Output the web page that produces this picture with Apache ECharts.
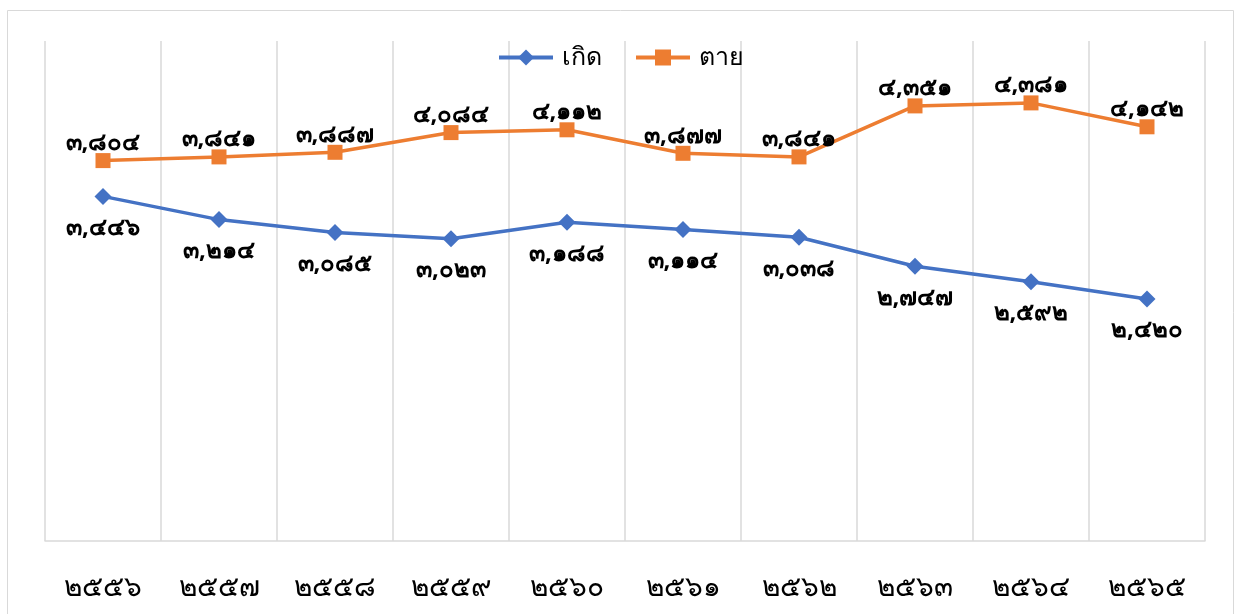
<!DOCTYPE html>
<html>
<head>
<meta charset="utf-8">
<script src="https://cdn.jsdelivr.net/npm/echarts@6/dist/echarts.min.js"></script>
<style>
  html, body { margin: 0; padding: 0; background: #fff; }
  #chart { width: 1241px; height: 614px; }
</style>
</head>
<body>
<div id="chart"></div>
<script>
// Years (Buddhist era, Thai digits)
const years = ['๒๕๕๖', '๒๕๕๗', '๒๕๕๘', '๒๕๕๙', '๒๕๖๐', '๒๕๖๑', '๒๕๖๒', '๒๕๖๓', '๒๕๖๔', '๒๕๖๕'];
// Births per year
const births = [3446, 3214, 3085, 3023, 3188, 3114, 3038, 2747, 2592, 2420];
// Deaths per year
const deaths = [3804, 3841, 3887, 4084, 4112, 3877, 3841, 4351, 4381, 4142];

const seriesNames = ['เกิด', 'ตาย'];
const FONT = '"Noto Sans", "DejaVu Sans", sans-serif';

// Format a number with thousands separator in Thai digits
const thaiDigits = '๐๑๒๓๔๕๖๗๘๙';
function toThai(n) {
  return n.toLocaleString('en-US').replace(/[0-9]/g, d => thaiDigits[+d]);
}

const chart = echarts.init(document.getElementById('chart'), null, { renderer: 'canvas' });

chart.setOption({
  animation: false,
  textStyle: { fontFamily: FONT },
  graphic: [{
    type: 'rect',
    shape: { x: 7.5, y: 10.5, width: 1226, height: 620 },
    style: { fill: 'none', stroke: '#d9d9d9', lineWidth: 1 },
    silent: true
  }],
  legend: {
    top: 40,
    left: 'center',
    itemWidth: 54,
    itemHeight: 20,
    itemGap: 32,
    lineStyle: { width: 4 },
    textStyle: { fontSize: 25, color: '#000', fontFamily: FONT, padding: [0, 0, 0, 4] },
    data: seriesNames
  },
  grid: { left: 45, right: 36, top: 41, bottom: 73 },
  xAxis: {
    type: 'category',
    data: years,
    boundaryGap: true,
    axisLine: { lineStyle: { color: '#d9d9d9', width: 1.5 } },
    axisTick: { show: false },
    axisLabel: { color: '#000', fontSize: 28, margin: 33, fontFamily: FONT },
    splitLine: { show: true, lineStyle: { color: '#d9d9d9', width: 1.5 } }
  },
  yAxis: {
    type: 'value',
    min: 0,
    max: 5000,
    interval: 1000,
    show: false,
    splitLine: { show: false }
  },
  series: [
    {
      name: seriesNames[0],
      type: 'line',
      data: births,
      symbol: 'diamond',
      symbolSize: 17,
      lineStyle: { color: '#4472C4', width: 3.5 },
      itemStyle: { color: '#4472C4' },
      label: {
        show: true,
        position: 'bottom',
        distance: 11,
        color: '#000',
        fontSize: 24,
        fontWeight: 'bold',
        fontFamily: FONT,
        formatter: p => toThai(p.value)
      }
    },
    {
      name: seriesNames[1],
      type: 'line',
      data: deaths,
      symbol: 'rect',
      symbolSize: 15,
      lineStyle: { color: '#ED7D31', width: 3.5 },
      itemStyle: { color: '#ED7D31' },
      label: {
        show: true,
        position: 'top',
        distance: -2,
        color: '#000',
        fontSize: 24,
        fontWeight: 'bold',
        fontFamily: FONT,
        formatter: p => toThai(p.value)
      }
    }
  ]
});
</script>
</body>
</html>
